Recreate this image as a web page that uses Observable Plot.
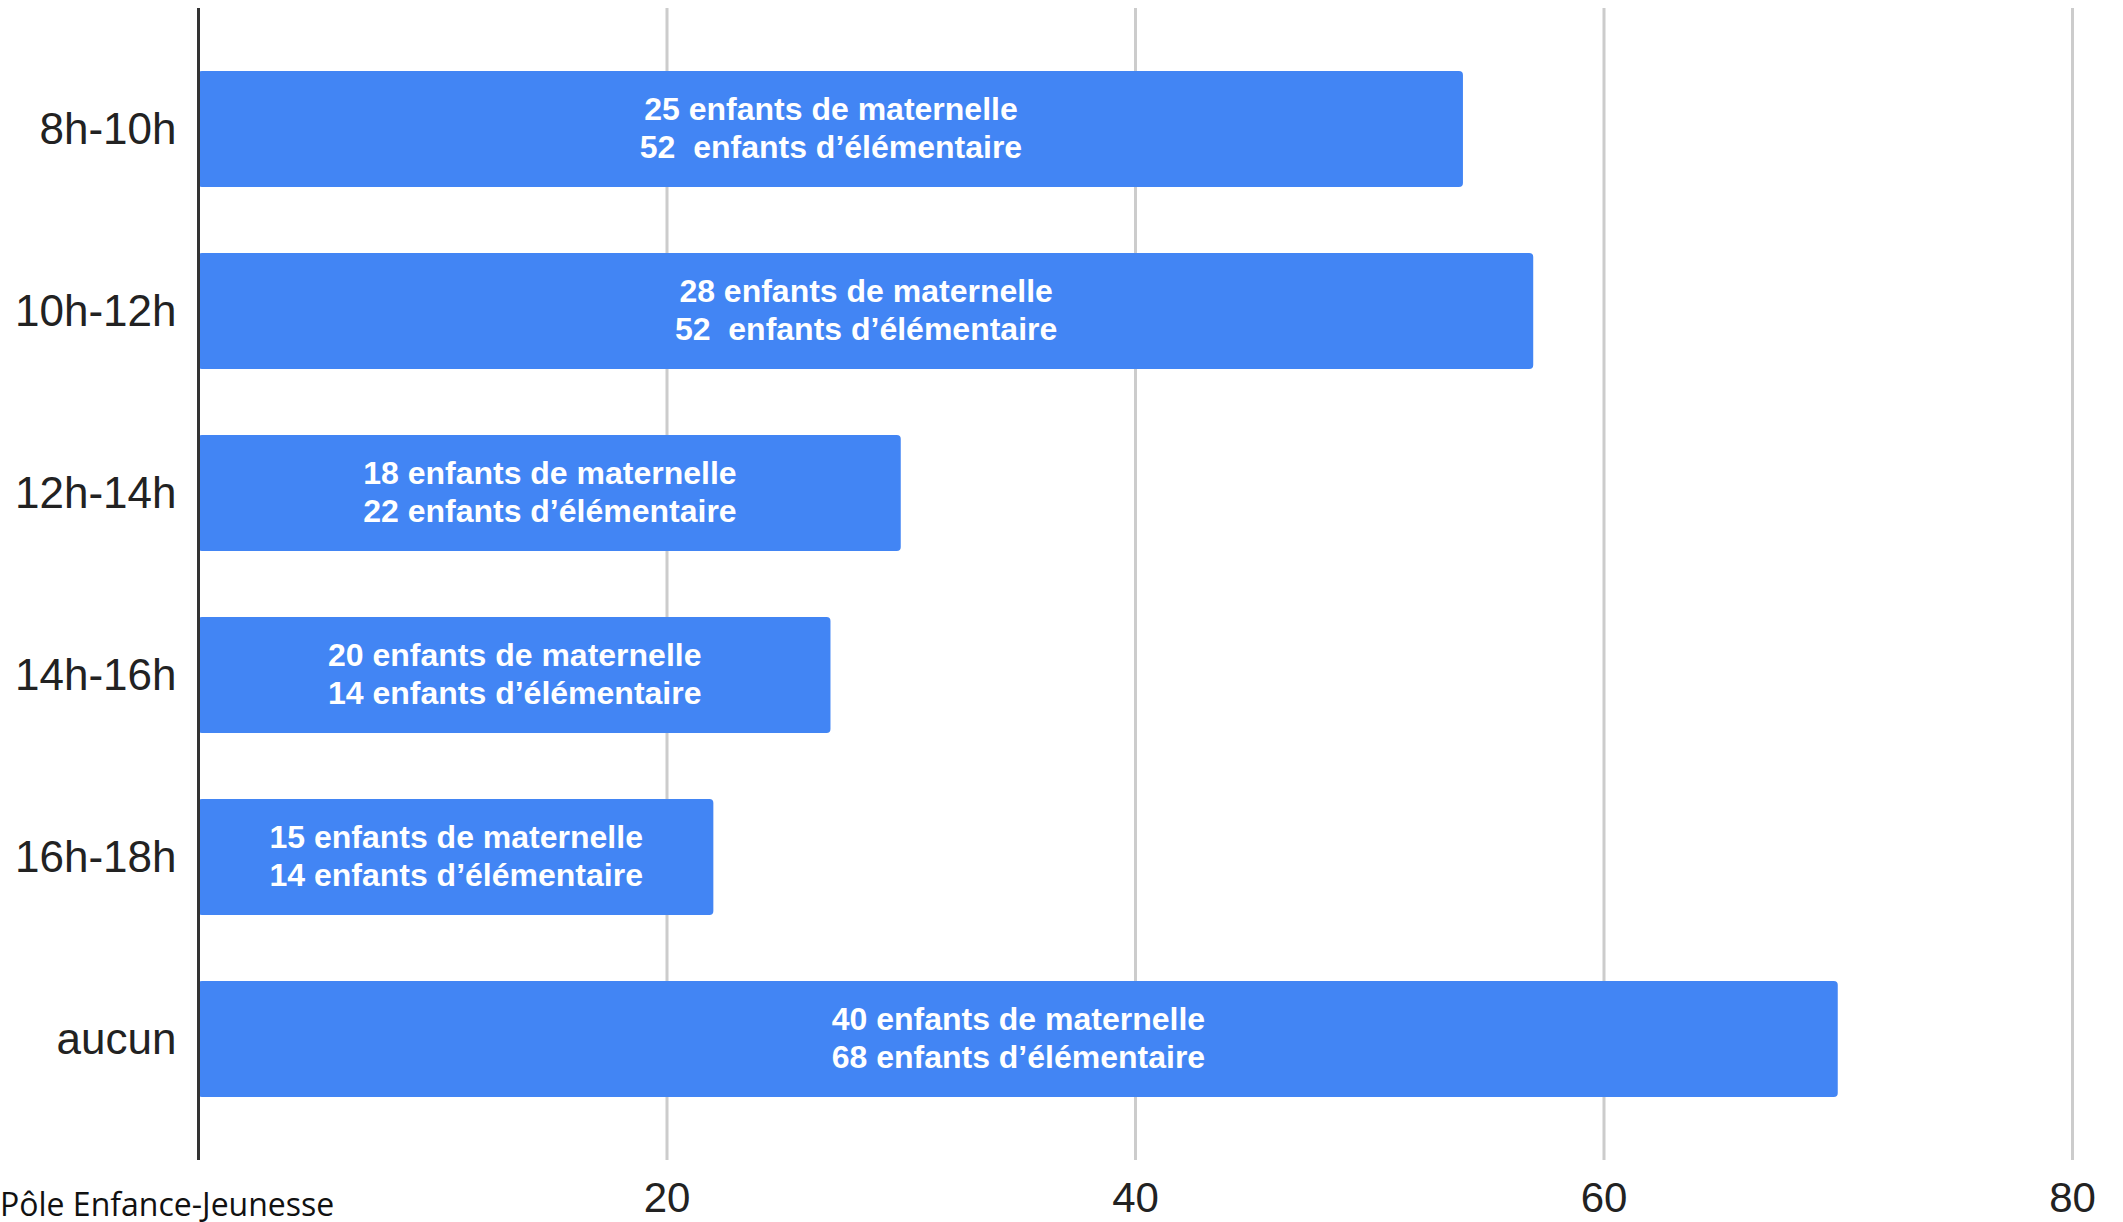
<!DOCTYPE html>
<html><head><meta charset="utf-8">
<script src="https://cdn.jsdelivr.net/npm/d3@7"></script>
<script src="https://cdn.jsdelivr.net/npm/@observablehq/plot@0.6"></script>
<style>
html,body{margin:0;padding:0;background:#fff;}
#wrap{position:relative;width:2123px;height:1222px;}
#caption{position:absolute;left:0;top:1182px;font-family:"Open Sans",sans-serif;font-size:32px;color:#111;white-space:nowrap;}
svg text{white-space:pre;}
</style></head><body><div id="wrap"><div id="caption">Pôle Enfance-Jeunesse</div></div>
<script>
const creneaux = ["8h-10h","10h-12h","12h-14h","14h-16h","16h-18h","aucun"];
const valeurs = [54,57,30,27,22,70];
const lignesMaternelle = ["25 enfants de maternelle","28 enfants de maternelle","18 enfants de maternelle","20 enfants de maternelle","15 enfants de maternelle","40 enfants de maternelle"];
const lignesElementaire = ["52  enfants d’élémentaire","52  enfants d’élémentaire","22 enfants d’élémentaire","14 enfants d’élémentaire","14 enfants d’élémentaire","68 enfants d’élémentaire"];
const xTicks = [20,40,60,80];

const data = creneaux.map((c,i)=>({creneau:c, valeur:valeurs[i], label:lignesMaternelle[i]+"\n"+lignesElementaire[i]}));

const chart = Plot.plot({
  width:2123, height:1222,
  marginLeft:198, marginRight:51, marginTop:8, marginBottom:62,
  style:{fontFamily:"'Liberation Sans', Arial, sans-serif", background:"white", color:"#222"},
  x:{domain:[0,80], label:null},
  y:{domain:creneaux, paddingInner:0.36, paddingOuter:0.34, label:null},
  marks:[
    Plot.gridX(xTicks,{stroke:"#cccccc", strokeOpacity:1, strokeWidth:3}),
    Plot.barX(data,{x:"valeur", y:"creneau", fill:"#4285f4", rx:4}),
    Plot.ruleX([0],{stroke:"#333", strokeWidth:3}),
    Plot.text(data,{x:d=>d.valeur/2, y:"creneau", dy:-3, text:"label", fill:"white", fontWeight:"bold", fontSize:32, lineHeight:1.2}),
    Plot.axisX(xTicks,{tickSize:0, tickPadding:22, fontSize:42, label:null}),
    Plot.axisY({tickSize:0, tickPadding:22, fontSize:44, label:null})
  ]
});
document.getElementById("wrap").prepend(chart);
</script>
</body></html>
